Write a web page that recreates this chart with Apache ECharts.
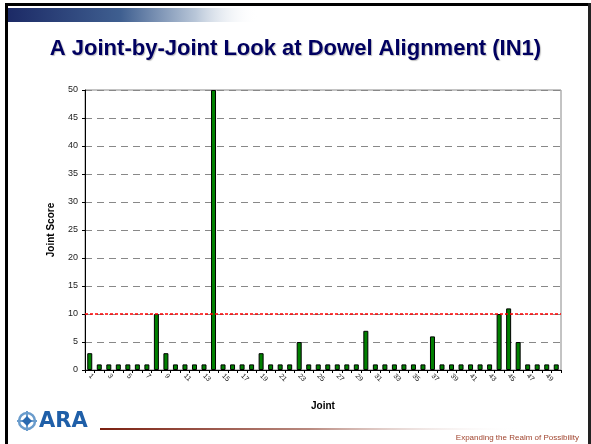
<!DOCTYPE html>
<html>
<head>
<meta charset="utf-8">
<script src="https://cdn.jsdelivr.net/npm/echarts@6/dist/echarts.min.js"></script>
<style>
  html, body { margin: 0; padding: 0; background: #fff; }
  #chart { width: 591px; height: 444px; }
</style>
</head>
<body>
<div id="chart"></div>
<script>
// Joint numbers along the slab
const joints = [];
for (let j = 1; j <= 50; j++) joints.push(String(j));

// Dowel alignment score for each joint
const jointScores = [
  3, 1, 1, 1, 1, 1, 1, 10, 3, 1,
  1, 1, 1, 50, 1, 1, 1, 1, 3, 1,
  1, 1, 5, 1, 1, 1, 1, 1, 1, 7,
  1, 1, 1, 1, 1, 1, 6, 1, 1, 1,
  1, 1, 1, 10, 11, 5, 1, 1, 1, 1
];

// Threshold score drawn as a dashed reference line
const thresholdScore = 10;

const titleText = 'A Joint-by-Joint Look at Dowel Alignment (IN1)';
const taglineText = 'Expanding the Realm of Possibility';

const chart = echarts.init(document.getElementById('chart'), null, { renderer: 'canvas' });

chart.setOption({
  animation: false,
  backgroundColor: '#ffffff',
  textStyle: { fontFamily: 'Liberation Sans, Arial, sans-serif' },
  grid: { left: 85, right: 30, top: 90, bottom: 74, show: true, borderColor: '#888', borderWidth: 1 },
  title: {
    text: titleText,
    left: 'center',
    top: 33,
    textStyle: {
      fontSize: 22, fontWeight: 'bold', color: '#000060',
      fontFamily: 'Liberation Sans, Arial, sans-serif',
      textShadowColor: 'rgba(0,0,0,0.25)', textShadowOffsetX: 1, textShadowOffsetY: 1, textShadowBlur: 1
    }
  },
  xAxis: {
    type: 'category',
    data: joints,
    name: 'Joint',
    nameLocation: 'middle',
    nameGap: 31,
    nameTextStyle: { fontSize: 10, fontWeight: 'bold', color: '#000' },
    axisLine: { lineStyle: { color: '#000', width: 1 } },
    axisTick: { show: true, interval: 0, length: 3, lineStyle: { color: '#000' } },
    axisLabel: { interval: 1, rotate: -45, fontSize: 7, color: '#222', margin: 5 }
  },
  yAxis: {
    type: 'value',
    min: 0, max: 50, interval: 5,
    name: 'Joint Score',
    nameLocation: 'middle',
    nameGap: 29,
    nameTextStyle: { fontSize: 10, fontWeight: 'bold', color: '#000' },
    axisLine: { show: true, lineStyle: { color: '#000', width: 1 } },
    axisTick: { show: true, length: 3, lineStyle: { color: '#000' } },
    axisLabel: { fontSize: 9, color: '#222', margin: 7 },
    splitLine: { show: true, lineStyle: { color: '#888', type: [7, 5], width: 1 } }
  },
  series: [{
    type: 'bar',
    data: jointScores,
    barWidth: 5,
    itemStyle: { color: '#008000', borderColor: '#000', borderWidth: 1 },
    markLine: {
      silent: true,
      symbol: 'none',
      label: { show: false },
      lineStyle: { color: '#ff0000', type: [3, 2], width: 1.5 },
      data: [{ yAxis: thresholdScore }]
    }
  }],
  graphic: [
    // slide frame
    { type: 'rect', shape: { x: 5, y: 3, width: 586, height: 3 }, style: { fill: '#000' } },
    { type: 'rect', shape: { x: 5, y: 3, width: 3, height: 441 }, style: { fill: '#000' } },
    { type: 'rect', shape: { x: 588, y: 3, width: 3, height: 441 }, style: { fill: '#222' } },
    // header gradient band
    {
      type: 'rect', shape: { x: 8, y: 8, width: 250, height: 14 },
      style: {
        fill: new echarts.graphic.LinearGradient(0, 0, 1, 0, [
          { offset: 0, color: '#1c2a66' },
          { offset: 0.45, color: '#3f5f90' },
          { offset: 0.75, color: '#b8c6d8' },
          { offset: 1, color: 'rgba(255,255,255,0)' }
        ])
      }
    },
    // footer rule
    {
      type: 'rect', shape: { x: 100, y: 428, width: 420, height: 2 },
      style: {
        fill: new echarts.graphic.LinearGradient(0, 0, 1, 0, [
          { offset: 0, color: '#7a1f10' },
          { offset: 0.5, color: '#b98a80' },
          { offset: 1, color: 'rgba(255,255,255,0)' }
        ])
      }
    },
    // logo mark
    { type: 'circle', shape: { cx: 27, cy: 421, r: 8 }, style: { fill: 'none', stroke: '#6a9ccc', lineWidth: 2.5 } },
    { type: 'rect', shape: { x: 17, y: 420, width: 20, height: 2 }, style: { fill: '#6a9ccc' } },
    { type: 'rect', shape: { x: 26, y: 411, width: 2, height: 20 }, style: { fill: '#6a9ccc' } },
    { type: 'polygon', shape: { points: [[27, 416], [32, 421], [27, 426], [22, 421]] }, style: { fill: '#2a6ab0' } },
    {
      type: 'text', left: 39, top: 411,
      style: { text: 'ARA', fontSize: 21, fontWeight: 'bold', fill: '#1f5fa8', fontFamily: 'DejaVu Sans, sans-serif' }
    },
    {
      type: 'text', right: 12, top: 434,
      style: { text: taglineText, fontSize: 8, fill: '#a0442e', fontFamily: 'Liberation Sans, Arial, sans-serif' }
    }
  ]
});
</script>
</body>
</html>
